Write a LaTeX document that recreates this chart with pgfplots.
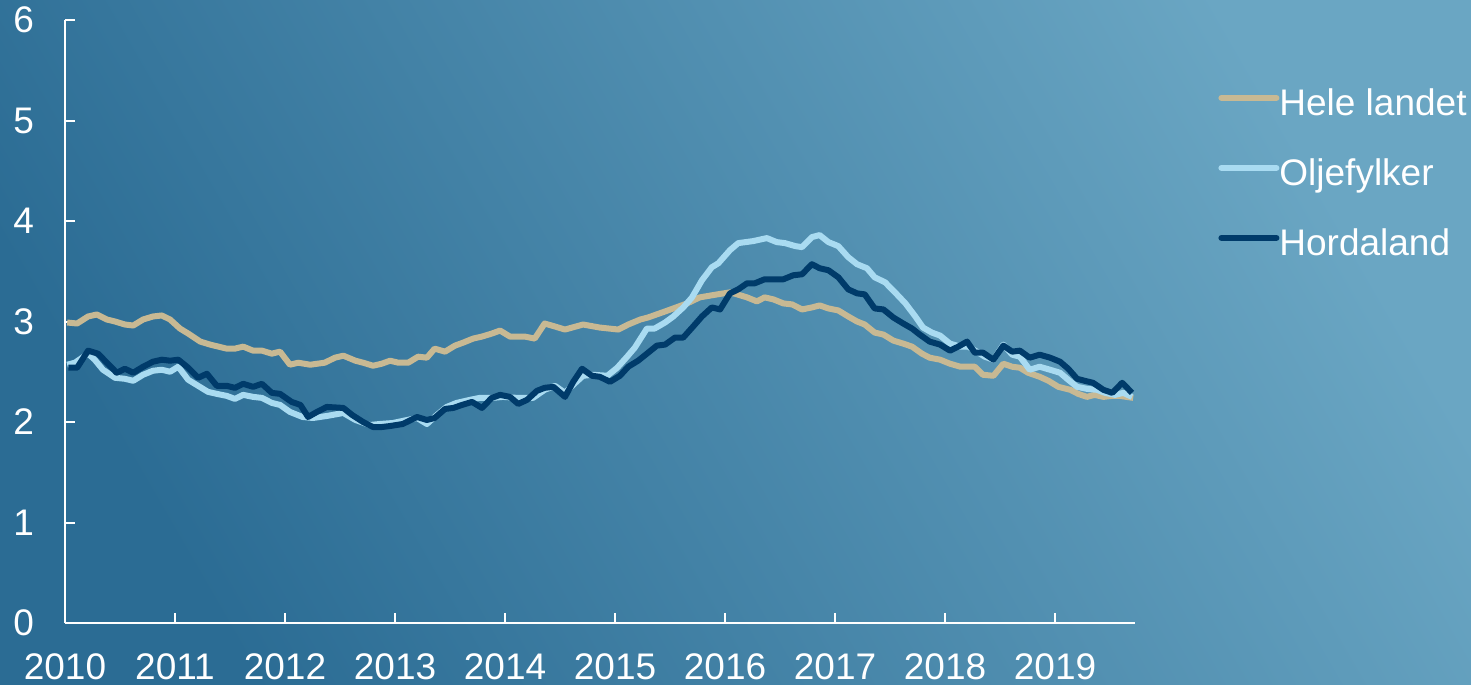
\documentclass[border=0pt]{standalone}
\usepackage{fontspec}
\setmainfont{Liberation Sans}
\usepackage{pgfplots}
\pgfplotsset{compat=1.18}
\definecolor{bgdark}{HTML}{2B6C94}
\definecolor{bglight}{HTML}{6AA6C3}
\definecolor{tan}{HTML}{C8B993}
\definecolor{lblue}{HTML}{A9DBF1}
\definecolor{navy}{HTML}{003B6A}
\begin{document}
\begin{tikzpicture}
\shade[shading=axis, bottom color=bgdark, top color=bglight, shading angle=-60] (-32.5pt,-30.5pt) rectangle (703pt,311.5pt);
\begin{axis}[
  scale only axis, width=535pt, height=301.5pt,
  xmin=2010, xmax=2019.727, ymin=0, ymax=6,
  axis lines*=left,
  axis line style={white, line width=1pt},
  tick style={white, line width=1pt},
  tick align=inside, major tick length=5pt,
  xtick={2010,2011,2012,2013,2014,2015,2016,2017,2018,2019},
  xticklabels={2010,2011,2012,2013,2014,2015,2016,2017,2018,2019},
  ytick={0,1,2,3,4,5,6},
  yticklabels={0,1,2,3,4,5,6},
  ticklabel style={font=\fontsize{18.5}{22}\selectfont, text=white},
  yticklabel style={xshift=-12pt},
  xticklabel style={yshift=-12pt},
  legend style={at={(1,1)}, anchor=north west, xshift=41.5pt, yshift=-33.5pt,
    draw=none, fill=none, inner sep=0pt, row sep=16.5pt,
    font=\fontsize{18.5}{22}\selectfont, text=white,
    nodes={inner sep=0pt, text height=14pt, text depth=4.5pt},
    /tikz/every even column/.append style={column sep=2.5pt}},
  legend cell align=left,
  legend image code/.code={\draw[#1, line width=3pt, line cap=round] (0pt,4pt) -- (27.5pt,4pt);},
  every axis plot/.append style={line width=3pt, line join=round},
]
\addplot[tan] coordinates {
(2010.02,2.99)(2010.11,2.98)(2010.21,3.05)(2010.29,3.07)(2010.38,3.02)(2010.455,3.00)
(2010.545,2.97)(2010.62,2.96)(2010.71,3.02)(2010.80,3.05)(2010.88,3.06)(2010.955,3.02)
(2011.045,2.93)(2011.12,2.88)(2011.23,2.80)(2011.32,2.77)(2011.47,2.73)(2011.545,2.73)
(2011.62,2.75)(2011.71,2.71)(2011.79,2.71)(2011.88,2.68)(2011.955,2.70)(2012.045,2.57)
(2012.12,2.59)(2012.23,2.57)(2012.36,2.59)(2012.455,2.64)(2012.53,2.66)(2012.64,2.61)
(2012.71,2.59)(2012.80,2.56)(2012.88,2.58)(2012.955,2.61)(2013.03,2.59)(2013.12,2.59)
(2013.21,2.65)(2013.29,2.64)(2013.36,2.73)(2013.455,2.70)(2013.545,2.76)(2013.62,2.79)
(2013.71,2.83)(2013.79,2.85)(2013.88,2.88)(2013.955,2.91)(2014.045,2.85)(2014.14,2.85)
(2014.18,2.85)(2014.27,2.83)(2014.36,2.98)(2014.455,2.95)(2014.545,2.92)(2014.71,2.97)
(2014.86,2.94)(2015.03,2.92)(2015.12,2.97)(2015.23,3.02)(2015.30,3.04)(2015.455,3.10)
(2015.53,3.13)(2015.655,3.18)(2015.77,3.24)(2015.93,3.27)(2016.045,3.29)(2016.11,3.27)
(2016.20,3.24)(2016.29,3.20)(2016.36,3.24)(2016.44,3.22)(2016.53,3.18)(2016.61,3.17)
(2016.70,3.12)(2016.79,3.14)(2016.86,3.16)(2016.94,3.13)(2017.03,3.11)(2017.12,3.05)
(2017.20,3.00)(2017.27,2.97)(2017.36,2.89)(2017.44,2.87)(2017.53,2.81)(2017.62,2.78)
(2017.70,2.75)(2017.79,2.68)(2017.86,2.64)(2017.955,2.62)(2018.045,2.58)(2018.14,2.55)
(2018.27,2.55)(2018.345,2.47)(2018.44,2.46)(2018.53,2.58)(2018.61,2.55)(2018.68,2.54)
(2018.755,2.49)(2018.86,2.45)(2018.94,2.41)(2019.03,2.35)(2019.14,2.32)(2019.21,2.28)
(2019.29,2.25)(2019.36,2.27)(2019.44,2.25)(2019.52,2.26)(2019.59,2.26)(2019.71,2.24)
};
\addlegendentry{Hele landet}
\addplot[lblue] coordinates {
(2010.02,2.57)(2010.09,2.59)(2010.21,2.68)(2010.27,2.62)(2010.345,2.52)(2010.455,2.44)
(2010.545,2.43)(2010.62,2.41)(2010.71,2.47)(2010.80,2.51)(2010.88,2.52)(2010.955,2.50)
(2011.03,2.55)(2011.12,2.42)(2011.21,2.36)(2011.30,2.30)(2011.38,2.28)(2011.47,2.26)
(2011.545,2.23)(2011.62,2.27)(2011.71,2.25)(2011.79,2.24)(2011.88,2.19)(2011.955,2.17)
(2012.045,2.10)(2012.16,2.05)(2012.255,2.04)(2012.38,2.06)(2012.53,2.09)(2012.64,2.02)
(2012.77,1.97)(2012.86,1.98)(2012.98,1.99)(2013.11,2.02)(2013.20,2.04)(2013.29,1.98)
(2013.38,2.07)(2013.47,2.15)(2013.56,2.19)(2013.68,2.22)(2013.77,2.24)(2013.89,2.24)
(2013.98,2.25)(2014.11,2.24)(2014.255,2.24)(2014.36,2.32)(2014.455,2.36)(2014.545,2.29)
(2014.62,2.37)(2014.71,2.46)(2014.80,2.47)(2014.93,2.46)(2015.02,2.54)(2015.11,2.65)
(2015.18,2.74)(2015.29,2.93)(2015.36,2.93)(2015.455,2.99)(2015.53,3.05)(2015.62,3.14)
(2015.70,3.24)(2015.79,3.41)(2015.88,3.54)(2015.94,3.58)(2016.045,3.71)(2016.12,3.78)
(2016.255,3.80)(2016.38,3.83)(2016.47,3.79)(2016.545,3.78)(2016.64,3.75)(2016.70,3.74)
(2016.79,3.84)(2016.86,3.86)(2016.94,3.79)(2017.03,3.75)(2017.12,3.64)(2017.20,3.57)
(2017.29,3.53)(2017.36,3.44)(2017.455,3.39)(2017.545,3.29)(2017.64,3.18)(2017.73,3.05)
(2017.80,2.94)(2017.88,2.89)(2017.955,2.86)(2018.045,2.78)(2018.14,2.75)(2018.21,2.75)
(2018.29,2.70)(2018.36,2.65)(2018.44,2.62)(2018.53,2.77)(2018.61,2.67)(2018.68,2.65)
(2018.77,2.52)(2018.86,2.55)(2018.955,2.52)(2019.045,2.49)(2019.12,2.42)(2019.20,2.35)
(2019.29,2.33)(2019.38,2.32)(2019.455,2.29)(2019.545,2.27)(2019.62,2.29)(2019.70,2.25)
};
\addlegendentry{Oljefylker}
\addplot[navy] coordinates {
(2010.03,2.54)(2010.11,2.54)(2010.21,2.71)(2010.30,2.68)(2010.39,2.58)(2010.47,2.49)
(2010.545,2.53)(2010.62,2.49)(2010.71,2.55)(2010.80,2.60)(2010.88,2.62)(2010.955,2.61)
(2011.03,2.62)(2011.12,2.54)(2011.21,2.44)(2011.29,2.48)(2011.38,2.36)(2011.47,2.36)
(2011.545,2.34)(2011.62,2.38)(2011.71,2.35)(2011.79,2.38)(2011.88,2.29)(2011.955,2.28)
(2012.06,2.20)(2012.14,2.17)(2012.21,2.05)(2012.29,2.10)(2012.38,2.15)(2012.53,2.14)
(2012.61,2.07)(2012.71,2.00)(2012.80,1.95)(2012.88,1.95)(2012.955,1.96)(2013.07,1.98)
(2013.20,2.05)(2013.29,2.02)(2013.36,2.04)(2013.455,2.13)(2013.53,2.14)(2013.61,2.17)
(2013.70,2.20)(2013.79,2.14)(2013.88,2.24)(2013.955,2.27)(2014.045,2.25)(2014.12,2.18)
(2014.20,2.22)(2014.29,2.31)(2014.36,2.34)(2014.44,2.35)(2014.545,2.25)(2014.62,2.40)
(2014.70,2.53)(2014.79,2.46)(2014.86,2.45)(2014.955,2.40)(2015.045,2.46)(2015.12,2.55)
(2015.21,2.61)(2015.29,2.68)(2015.38,2.76)(2015.455,2.77)(2015.545,2.84)(2015.62,2.84)
(2015.71,2.95)(2015.79,3.05)(2015.88,3.14)(2015.955,3.12)(2016.045,3.28)(2016.12,3.32)
(2016.20,3.38)(2016.27,3.38)(2016.36,3.42)(2016.53,3.42)(2016.62,3.46)(2016.70,3.47)
(2016.79,3.57)(2016.86,3.53)(2016.94,3.51)(2017.03,3.44)(2017.12,3.32)(2017.20,3.28)
(2017.27,3.27)(2017.36,3.13)(2017.44,3.12)(2017.53,3.04)(2017.62,2.98)(2017.70,2.93)
(2017.77,2.87)(2017.86,2.80)(2017.955,2.77)(2018.045,2.71)(2018.12,2.75)(2018.20,2.80)
(2018.27,2.69)(2018.345,2.69)(2018.44,2.62)(2018.53,2.76)(2018.61,2.70)(2018.68,2.71)
(2018.77,2.64)(2018.86,2.67)(2018.955,2.64)(2019.045,2.60)(2019.12,2.53)(2019.20,2.43)
(2019.27,2.41)(2019.345,2.39)(2019.44,2.32)(2019.52,2.29)(2019.61,2.39)(2019.70,2.29)
};
\addlegendentry{Hordaland}
\end{axis}
\useasboundingbox (-32.5pt,-30.5pt) rectangle (703pt,311.5pt);
\end{tikzpicture}
\end{document}
